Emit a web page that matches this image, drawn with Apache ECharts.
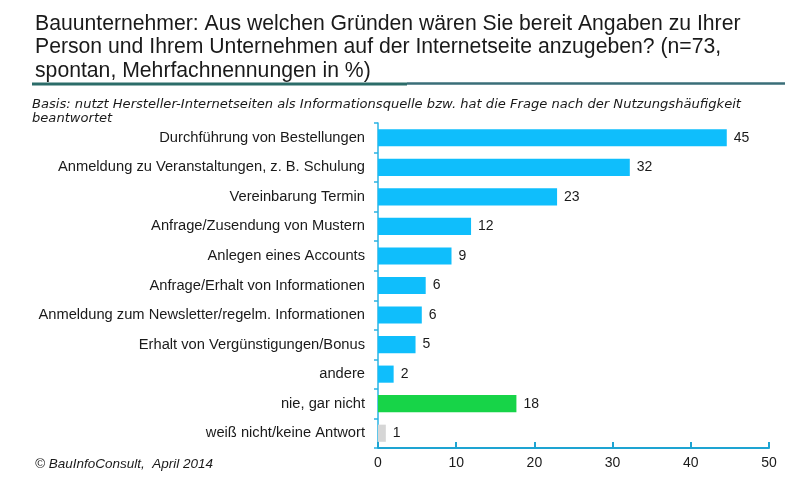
<!DOCTYPE html>
<html>
<head>
<meta charset="utf-8">
<script src="https://cdn.jsdelivr.net/npm/echarts@6/dist/echarts.min.js"></script>
<style>html,body{margin:0;padding:0;background:#fff;}#c{width:808px;height:490px;}</style>
</head>
<body>
<div id="c"></div>
<script>
const categories = [
  "Durchführung von Bestellungen",
  "Anmeldung zu Veranstaltungen, z. B. Schulung",
  "Vereinbarung Termin",
  "Anfrage/Zusendung von Mustern",
  "Anlegen eines Accounts",
  "Anfrage/Erhalt von Informationen",
  "Anmeldung zum Newsletter/regelm. Informationen",
  "Erhalt von Vergünstigungen/Bonus",
  "andere",
  "nie, gar nicht",
  "weiß nicht/keine Antwort"
];
const values = [44.6, 32.2, 22.9, 11.9, 9.4, 6.1, 5.6, 4.8, 2.0, 17.7, 1.0];
const barColors = ["#0fbefc","#0fbefc","#0fbefc","#0fbefc","#0fbefc","#0fbefc","#0fbefc","#0fbefc","#0fbefc","#17d448","#d6d6d6"];
const xTicks = [0, 10, 20, 30, 40, 50];

const titleText = "Bauunternehmer: Aus welchen Gründen wären Sie bereit Angaben zu Ihrer\nPerson und Ihrem Unternehmen auf der Internetseite anzugeben? (n=73,\nspontan, Mehrfachnennungen in %)";
const subText = "Basis: nutzt Hersteller-Internetseiten als Informationsquelle bzw. hat die Frage nach der Nutzungshäufigkeit\nbeantwortet";
const footText = "© BauInfoConsult,  April 2014";

const chart = echarts.init(document.getElementById('c'), null, {renderer: 'canvas'});
chart.setOption({
  animation: false,
  backgroundColor: '#fff',
  title: [
    {text: titleText, left: 30, top: 7,
     textStyle: {fontFamily: 'Liberation Sans, Arial', fontSize: 21.2, fontWeight: 'normal', color: '#1a1a1a', lineHeight: 23.5}},
    {text: subText, left: 27, top: 92,
     textStyle: {fontFamily: 'DejaVu Sans', fontSize: 13.1, fontStyle: 'italic', fontWeight: 'normal', color: '#1a1a1a', lineHeight: 14.5}},
    {text: footText, left: 30, top: 452,
     textStyle: {fontFamily: 'Liberation Sans, Arial', fontSize: 13.5, fontStyle: 'italic', fontWeight: 'normal', color: '#1a1a1a'}}
  ],
  graphic: [
    {type: 'line', shape: {x1: 32, y1: 84, x2: 407, y2: 84}, style: {stroke: '#2b6c69', lineWidth: 3}},
    {type: 'line', shape: {x1: 407, y1: 83.5, x2: 785, y2: 83.5}, style: {stroke: '#3a6e78', lineWidth: 2.5}}
  ],
  grid: {left: 378, right: 39, top: 123, bottom: 42, containLabel: false},
  xAxis: {
    type: 'value', min: xTicks[0], max: xTicks[xTicks.length - 1], interval: xTicks[1] - xTicks[0],
    splitLine: {show: false},
    axisLine: {show: true, lineStyle: {color: '#1ea4d2', width: 2}},
    axisTick: {show: true, inside: true, length: 6, lineStyle: {color: '#1ea4d2', width: 2}},
    axisLabel: {fontFamily: 'Liberation Sans, Arial', fontSize: 14, color: '#1a1a1a', margin: 8}
  },
  yAxis: {
    type: 'category', data: categories, inverse: true,
    axisLine: {show: true, lineStyle: {color: '#2ab3e3', width: 1.5}},
    axisTick: {show: true, inside: false, length: 4, lineStyle: {color: '#2ab3e3', width: 1.5}},
    axisLabel: {fontFamily: 'Liberation Sans, Arial', fontSize: 14.7, color: '#1a1a1a', margin: 13}
  },
  series: [{
    type: 'bar',
    barCategoryGap: '42%',
    data: values.map((v, i) => ({value: v, itemStyle: {color: barColors[i]}})),
    label: {show: true, position: 'right', distance: 7, fontFamily: 'Liberation Sans, Arial', fontSize: 14, color: '#1a1a1a',
      formatter: p => Math.round(p.value)}
  }]
});
</script>
</body>
</html>
